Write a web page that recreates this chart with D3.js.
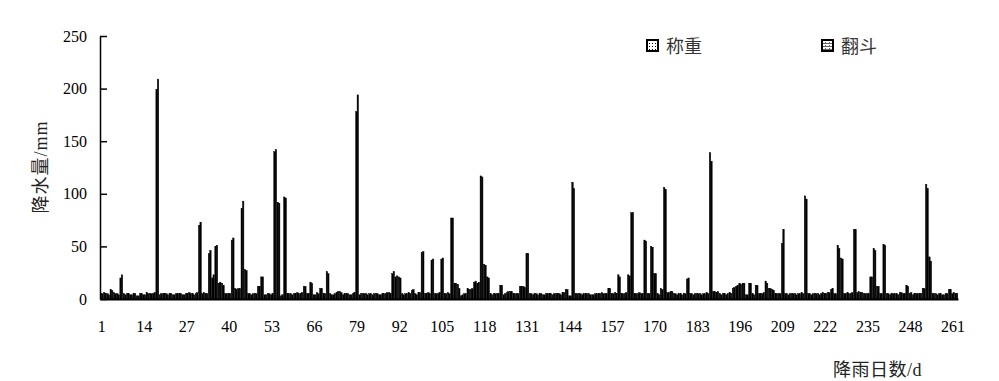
<!DOCTYPE html>
<html><head><meta charset="utf-8">
<script src="https://cdn.jsdelivr.net/npm/d3@7/dist/d3.min.js"></script>
<style>body{margin:0;background:#fff}</style>
</head><body><svg id="c" width="999" height="381"></svg>
<script>
// Series values (mm), day 1..262
const weighing = [
5,6,5,9,6,5,20,5,5,4,
5,3,5,4,6,5,5,199,4,5,
5,5,4,5,5,4,5,6,5,5,
70,5,5,43,20,50,15,15,5,5,
56,10,10,86,28,5,4,5,12,21,
4,5,4,140,92,3,97,5,5,5,
6,5,12,5,16,4,6,10,5,26,
5,4,6,7,4,5,4,5,178,4,
5,5,5,4,5,4,5,5,6,24,
21,21,5,5,6,8,5,6,44,5,
6,37,5,5,38,5,6,77,15,14,
3,5,10,9,16,15,117,33,21,5,
5,5,13,4,6,7,5,5,12,12,
43,5,4,5,5,4,5,5,4,5,
5,6,9,3,111,5,5,4,5,5,
4,5,5,6,5,10,5,6,23,5,
5,23,82,5,5,5,56,5,50,24,
5,10,106,6,7,5,4,5,5,19,
5,4,5,5,5,6,139,7,6,5,
5,4,6,10,12,15,15,4,15,5,
13,5,5,17,10,9,5,5,53,5,
4,5,5,5,6,98,5,4,5,5,
5,5,6,9,5,51,39,5,6,5,
66,6,6,5,5,21,48,12,5,52,
5,4,5,5,6,5,13,5,4,5,
5,10,109,40,5,5,5,4,5,9,5,5
];
const tipping = [
5,5,4,8,5,4,23,4,5,4,
5,3,5,4,5,5,6,209,5,5,
4,5,4,5,5,4,5,5,4,6,
73,6,5,46,23,51,16,13,5,5,
58,9,10,93,27,5,5,5,12,21,
4,5,5,142,91,4,96,5,4,5,
5,6,12,5,15,4,5,10,5,24,
4,5,7,6,5,5,4,6,194,5,
5,4,5,5,5,4,5,6,5,26,
22,20,4,5,5,9,4,6,45,5,
5,38,5,6,39,5,5,77,15,10,
4,5,9,10,17,16,116,32,20,4,
5,5,13,5,7,7,5,5,12,11,
43,5,5,4,5,4,5,5,5,5,
4,6,9,3,105,5,5,5,5,4,
4,5,5,5,5,10,5,5,21,5,
6,22,82,5,6,5,55,5,49,24,
4,9,104,6,7,5,5,4,5,20,
5,5,5,4,5,5,131,7,7,4,
5,5,5,11,13,14,15,4,15,4,
13,5,6,15,10,8,5,5,66,5,
5,5,4,5,5,95,5,5,5,4,
6,5,6,10,5,48,38,5,5,6,
66,7,6,5,5,21,46,12,5,51,
5,5,5,4,6,5,12,6,5,5,
5,10,105,36,5,4,5,4,5,9,6,5
];
const days = weighing.map((_, i) => i + 1);
const seriesNames = ["称重", "翻斗"];
const yTicks = [0, 50, 100, 150, 200, 250];
const xTickLabels = [1,14,27,40,53,66,79,92,105,118,131,144,157,170,183,196,209,222,235,248,261];

const svg = d3.select("#c");
const L = 100, R = 958, T = 36, B = 299;

const defs = svg.append("defs");
const p1 = defs.append("pattern").attr("id","dots").attr("width",3).attr("height",3).attr("patternUnits","userSpaceOnUse");
p1.append("rect").attr("width",3).attr("height",3).attr("fill","#fff");
p1.append("rect").attr("x",1).attr("y",1).attr("width",1).attr("height",1).attr("fill","#000");
const p2 = defs.append("pattern").attr("id","brick").attr("width",4).attr("height",3).attr("patternUnits","userSpaceOnUse");
p2.append("rect").attr("width",4).attr("height",3).attr("fill","#fff");
p2.append("rect").attr("x",0).attr("y",1).attr("width",4).attr("height",1).attr("fill","#666");
p2.append("rect").attr("x",1).attr("y",0).attr("width",1).attr("height",1).attr("fill","#666");

const x = d3.scaleBand().domain(days).range([L, R]).paddingInner(0.12).paddingOuter(0.06);
const xs = d3.scaleBand().domain(seriesNames).range([0, x.bandwidth()]).padding(0);
const y = d3.scaleLinear().domain([0, 250]).range([B, T]);

const data = days.map((d, i) => ({day: d, vals: [
  {k: seriesNames[0], v: weighing[i]}, {k: seriesNames[1], v: tipping[i]}]}));

const g = svg.append("g");
g.selectAll("g.day").data(data).join("g")
  .attr("transform", d => `translate(${x(d.day)},0)`)
  .selectAll("rect").data(d => d.vals).join("rect")
  .attr("x", d => xs(d.k))
  .attr("width", xs.bandwidth())
  .attr("y", d => y(d.v))
  .attr("height", d => B - y(d.v))
  .attr("fill", "#000").attr("stroke", "#000").attr("stroke-width", 0.45);

// Y axis
const yAxis = svg.append("g").attr("transform", `translate(${L},0)`)
  .call(d3.axisLeft(y).tickValues(yTicks).tickSizeInner(-7).tickSizeOuter(0).tickPadding(13));
yAxis.select(".domain").attr("stroke","#000").attr("stroke-width",1.5);
yAxis.selectAll(".tick line").attr("stroke","#000").attr("stroke-width",1.5);
yAxis.selectAll("text").attr("font-family","'Liberation Serif', serif").attr("font-size",16).attr("fill","#000");

// X axis
const xAxis = svg.append("g").attr("transform", `translate(0,${B})`)
  .call(d3.axisBottom(x).tickValues(xTickLabels).tickSize(0).tickPadding(22));
xAxis.select(".domain").attr("stroke","#000").attr("stroke-width",1.8);
xAxis.selectAll("text").attr("font-family","'Liberation Serif', serif").attr("font-size",16).attr("fill","#000");

// Axis titles
svg.append("text").attr("x", 833).attr("y", 376)
  .attr("font-family","'Liberation Serif','Noto Sans CJK SC', serif").attr("font-size",18)
  .attr("letter-spacing", 0.5).attr("fill","#222")
  .text("降雨日数/d");
svg.append("text").attr("transform","translate(47,167) rotate(-90)").attr("text-anchor","middle")
  .attr("font-family","'Liberation Serif','Noto Sans CJK SC', serif").attr("font-size",18)
  .attr("letter-spacing", 1).attr("fill","#222")
  .text("降水量/mm");

// Legend
const legendX = [647, 822];
const fills = ["url(#dots)", "url(#brick)"];
seriesNames.forEach((n, i) => {
  svg.append("rect").attr("x", legendX[i]).attr("y", 40).attr("width", 11).attr("height", 11)
    .attr("fill", fills[i]).attr("stroke", "#000").attr("stroke-width", 2);
  svg.append("text").attr("x", legendX[i] + 19).attr("y", 53)
    .attr("font-family","'Noto Sans CJK SC', serif").attr("font-size",18).attr("fill","#333").text(n);
});
</script></body></html>
